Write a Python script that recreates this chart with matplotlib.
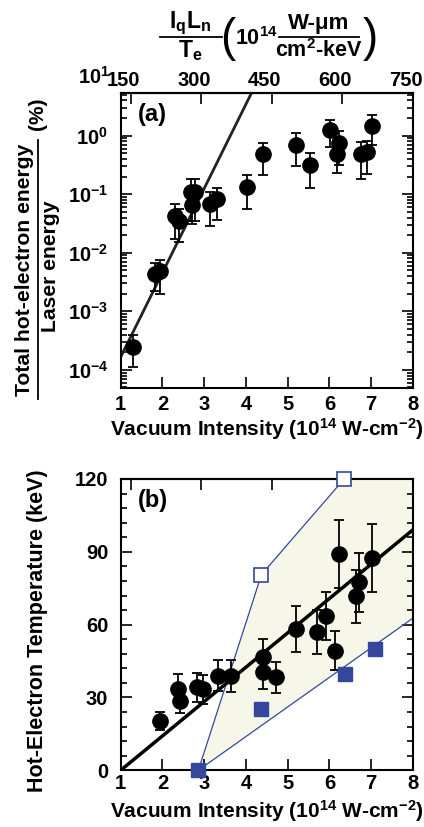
import matplotlib.pyplot as plt
from matplotlib.lines import Line2D
from matplotlib.transforms import ScaledTranslation
from matplotlib.ticker import MultipleLocator, LogLocator, NullFormatter

plt.rcParams['font.family'] = ['Liberation Sans', 'DejaVu Sans']
plt.rcParams['font.weight'] = 'bold'
plt.rcParams['mathtext.fontset'] = 'custom'
plt.rcParams['mathtext.rm'] = 'Liberation Sans:bold'
plt.rcParams['mathtext.it'] = 'Liberation Sans:bold'
plt.rcParams['mathtext.bf'] = 'Liberation Sans:bold'
plt.rcParams['mathtext.default'] = 'rm'

# (a) hot-electron energy fraction (%) vs vacuum intensity
a_x = [1.29, 1.81, 1.93, 2.31, 2.39, 2.68, 2.79, 2.71, 3.15, 3.31,
       4.03, 4.40, 5.21, 5.53, 6.01, 6.22, 6.18, 6.75, 6.89, 7.03]
a_y = [2.5e-4, 0.0044, 0.0048, 0.0425, 0.035, 0.11, 0.11, 0.066, 0.069, 0.082,
       0.133, 0.485, 0.70, 0.32, 1.25, 0.76, 0.485, 0.485, 0.52, 1.47]
a_err = [1.4e-4, 0.0022, 0.0028, 0.025, 0.02, 0.075, 0.075, 0.035, 0.04, 0.046,
         0.077, 0.27, 0.4, 0.19, 0.6, 0.45, 0.25, 0.3, 0.3, 0.77]
a_fit_x = [1.0, 4.15]
a_fit_y = [1.66e-4, 5.7]

# top axis: IqLn/Te values
top_ticks = [150, 300, 450, 600, 750]

# (b) hot-electron temperature (keV) vs vacuum intensity
b_x = [1.95, 2.38, 2.42, 2.82, 2.96, 3.33, 3.65, 4.41, 4.41, 4.71,
       5.21, 5.69, 5.91, 6.13, 6.22, 6.64, 6.71, 7.03]
b_y = [20.4, 33.5, 28.6, 34.2, 33.4, 39.0, 38.9, 46.7, 40.4, 38.3,
       58.3, 56.9, 63.6, 49.2, 89.1, 71.6, 77.4, 87.4]
b_err = [3.7, 6, 5, 6, 6, 6.5, 6.5, 7.5, 7, 6.5,
         9.5, 9, 10, 8, 14, 11, 12, 14]
b_fit_x = [1.0, 8.0]
b_fit_y = [0.0, 99.1]

# blue squares and shaded band
filled_x = [2.86, 4.36, 6.36, 7.10]
filled_y = [0.0, 25.1, 39.6, 49.9]
open_x = [4.37, 6.35]
open_y = [80.6, 120.0]
upper_x = [2.86, 4.37, 6.35, 8.0]
upper_y = [0.0, 80.6, 120.0, 120.0]
lower_x = [2.86, 8.0]
lower_y = [0.0, 62.7]

blue = '#34479c'
shade = '#f6f7e8'

W, H = 424, 827
fig = plt.figure(figsize=(W / 100, H / 100), dpi=100)


def fx(px):
    return px / W


def fy(py):
    return 1 - py / H


def to_top(x):
    return 150 + (x - 1.24) * 600 / 6.76


def from_top(v):
    return 1.24 + (v - 150) * 6.76 / 600


def style_axis(ax):
    for s in ax.spines.values():
        s.set_linewidth(1.5)
    ax.tick_params(which='both', direction='in', right=True, width=1.2,
                   labelsize=14.5, pad=5)
    ax.tick_params(which='major', length=8)
    ax.tick_params(which='minor', length=4)


# ---- panel (a) ----
ax1 = fig.add_axes([fx(120.7), fy(388), fx(413) - fx(120.7), fy(93) - fy(388)])
ax1.set_yscale('log')
ax1.plot(a_fit_x, a_fit_y, color='#222222', lw=2)
ax1.errorbar(a_x, a_y, yerr=a_err, fmt='o', color='black', ms=11,
             capsize=3.5, elinewidth=1.3, capthick=1.3)
ax1.set_xlim(1, 8)
ax1.set_ylim(10 ** -4.31, 10 ** 0.73)
ax1.set_xticks(range(1, 9))
ax1.yaxis.set_major_locator(LogLocator(base=10, numticks=10))
ax1.yaxis.set_minor_locator(LogLocator(base=10, subs=range(2, 10), numticks=10))
ax1.yaxis.set_minor_formatter(NullFormatter())
style_axis(ax1)
ax1.tick_params(axis='y', pad=9)
ax1.text(-0.035, 10, r'$10^{1}$', transform=ax1.get_yaxis_transform(),
         ha='right', va='center', fontsize=14.5, clip_on=False)
ax1.text(0.06, 0.965, '(a)', transform=ax1.transAxes, fontsize=17, va='top')

sec1 = ax1.secondary_xaxis('top', functions=(to_top, from_top))
sec1.set_xticks(top_ticks)
sec1.tick_params(direction='in', length=8, width=1.2, labelsize=14.5, pad=2)
sec1.spines['top'].set_linewidth(1.5)
shift = ScaledTranslation(-7 / 100, 0, fig.dpi_scale_trans)
for lab in sec1.get_xticklabels():
    lab.set_transform(lab.get_transform() + shift)

# ---- panel (b) ----
ax2 = fig.add_axes([fx(120.7), fy(770.3), fx(413) - fx(120.7), fy(479) - fy(770.3)])
ax2.fill(upper_x + lower_x[::-1], upper_y + lower_y[::-1], color=shade, lw=0)
ax2.plot(upper_x[:3], upper_y[:3], color=blue, lw=0.9)
ax2.plot(lower_x, lower_y, color=blue, lw=0.9)
ax2.plot(b_fit_x, b_fit_y, color='black', lw=2.5)
ax2.errorbar(b_x, b_y, yerr=b_err, fmt='o', color='black', ms=11,
             capsize=3.5, elinewidth=1.3, capthick=1.3)
ax2.plot(filled_x, filled_y, 's', color=blue, ms=9.5, clip_on=False, zorder=5)
ax2.plot(open_x, open_y, 's', mfc='white', mec=blue, mew=1.2, ms=9.5,
         clip_on=False, zorder=5)
ax2.set_xlim(1, 8)
ax2.set_ylim(0, 120)
ax2.set_xticks(range(1, 9))
ax2.set_yticks([0, 30, 60, 90, 120])
ax2.yaxis.set_minor_locator(MultipleLocator(6))
style_axis(ax2)
ax2.tick_params(axis='y', pad=9)
ax2.tick_params(axis='x', pad=3)
ax2.text(0.06, 0.965, '(b)', transform=ax2.transAxes, fontsize=17, va='top')

sec2 = ax2.secondary_xaxis('top', functions=(to_top, from_top))
sec2.set_xticks(top_ticks)
sec2.tick_params(direction='in', length=8, width=1.2, labeltop=False)
sec2.spines['top'].set_linewidth(1.5)

# ---- axis labels ----
xlab = 'Vacuum Intensity (10$^{14}$ W-cm$^{-2}$)'
fig.text(fx(267), fy(429), xlab, ha='center', va='center', fontsize=15)
fig.text(fx(267), fy(811), xlab, ha='center', va='center', fontsize=15)

fig.text(fx(25), fy(270), 'Total hot-electron energy', rotation=90,
         ha='center', va='center', fontsize=15.2)
fig.add_artist(Line2D([fx(37.5), fx(37.5)], [fy(140), fy(399)], color='black', lw=1.3))
fig.text(fx(50), fy(266), 'Laser energy', rotation=90,
         ha='center', va='center', fontsize=15.2)
fig.text(fx(38), fy(114), '(%)', rotation=90, ha='center', va='center', fontsize=15)

fig.text(fx(38), fy(631), 'Hot-Electron Temperature (keV)', rotation=90,
         ha='center', va='center', fontsize=15.5)

# top axis label: IqLn/Te (10^14 W-um / cm2-keV)
fig.text(fx(190), fy(23), 'I$_{q}$L$_{n}$', ha='center', va='center', fontsize=16.5)
fig.add_artist(Line2D([fx(160), fx(222)], [fy(37), fy(37)], color='black', lw=1.3))
fig.text(fx(190), fy(51), 'T$_{e}$', ha='center', va='center', fontsize=16.5)
fig.text(fx(228), fy(39), '(', ha='center', va='center', fontsize=33, fontweight='normal')
fig.text(fx(256), fy(39), '10$^{14}$', ha='center', va='center', fontsize=15.5)
fig.text(fx(319), fy(23), 'W-\u03bcm', ha='center', va='center', fontsize=16)
fig.add_artist(Line2D([fx(279), fx(359)], [fy(37), fy(37)], color='black', lw=1.3))
fig.text(fx(319), fy(51), 'cm$^{2}$-keV', ha='center', va='center', fontsize=15.5)
fig.text(fx(370), fy(39), ')', ha='center', va='center', fontsize=33, fontweight='normal')

fig.savefig('out.png', dpi=100)
